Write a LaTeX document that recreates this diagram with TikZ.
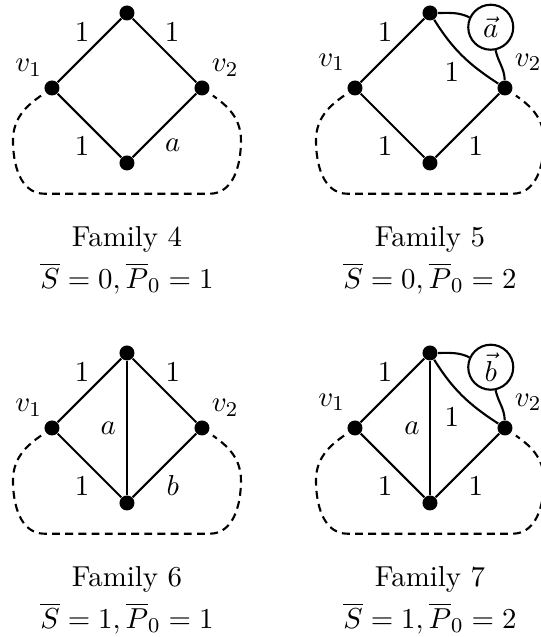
\documentclass[tikz,border=0pt,11pt]{standalone}
\usepackage{amsmath}
\usepackage{tikz}
\usetikzlibrary{arrows.meta,positioning}

\begin{document}
\begin{tikzpicture}[
vtx/.style={circle, fill, inner sep=0pt, minimum size=0.2cm},
edge/.style={thick},
outer/.style={thick, dash pattern=on 3pt off 2pt, shorten <=2pt, shorten >=2pt},
lab/.style={inner sep=1pt},
vec/.style={circle, draw, thick, minimum size=0.6cm, inner sep=0pt}
]
\useasboundingbox (-1.693,1.173) rectangle (5.507,-7.32);
% common part of the four families
\foreach \n/\x/\y/\s/\p/\h/\w in {4/0/0/0/1/0.27/a, 5/4.04/0/0/2/0.34/1, 6/0/-4.533/1/1/0.27/b, 7/4.04/-4.533/1/2/0.34/1} {
  \begin{scope}[shift={(\x,\y)}]
    \node[vtx] (t\n) at (0,1) {};
    \node[vtx] (l\n) at (-1,0) {};
    \node[vtx] (r\n) at (1,0) {};
    \node[vtx] (b\n) at (0,-1) {};
    \draw[edge] (l\n) -- (t\n);
    \draw[edge] (l\n) -- (b\n);
    \draw[edge] (b\n) -- (r\n);
    \draw[outer] (l\n) to[out=215,in=90] (-1.52,-0.7) to[out=-90,in=180] (-1.1,-1.41)
      -- (1.1,-1.41) to[out=0,in=-90] (1.52,-0.7) to[out=90,in=-35] (r\n);
    \node[lab] (vl\n) at (-1.31,\h) {$v_1$};
    \node[lab] (vr\n) at (1.31,\h) {$v_2$};
    \node[lab] (wa\n) at (-0.6,0.75) {$1$};
    \node[lab] (wb\n) at (-0.6,-0.78) {$1$};
    \node[lab] (wc\n) at (0.61,-0.77) {$\w$};
    \node[anchor=base] (f\n) at (0,-2.12) {Family \n};
    \node[anchor=base] (e\n) at (0,-2.67) {$\overline{S}=\s,\overline{P}_0=\p$};
  \end{scope}
}
% family 4
\draw[edge] (t4) -- (r4);
\node[lab] (wd4) at (0.6,0.75) {$1$};
% family 5
\begin{scope}[shift={(4.04,0)}]
  \node[vec] (c5) at (0.81,0.81) {$\vec{a}$};
  \draw[edge] (t5) to[out=0,in=155] (c5);
  \draw[edge] (c5) to[out=-78,in=92] (r5);
  \draw[edge] (t5) to[out=-58,in=147] (r5);
  \node[lab] (wd5) at (0.29,0.21) {$1$};
\end{scope}
% family 6
\begin{scope}[shift={(0,-4.533)}]
  \draw[edge] (t6) -- (r6);
  \draw[edge] (t6) -- (b6);
  \node[lab] (wd6) at (0.61,0.75) {$1$};
  \node[lab] (we6) at (-0.25,-0.01) {$a$};
\end{scope}
% family 7
\begin{scope}[shift={(4.04,-4.533)}]
  \node[vec] (c7) at (0.81,0.81) {$\vec{b}$};
  \draw[edge] (t7) to[out=0,in=155] (c7);
  \draw[edge] (c7) to[out=-78,in=92] (r7);
  \draw[edge] (t7) to[out=-58,in=147] (r7);
  \draw[edge] (t7) -- (b7);
  \node[lab] (wd7) at (0.29,0.15) {$1$};
  \node[lab] (we7) at (-0.24,-0.01) {$a$};
\end{scope}
\end{tikzpicture}
\end{document}
